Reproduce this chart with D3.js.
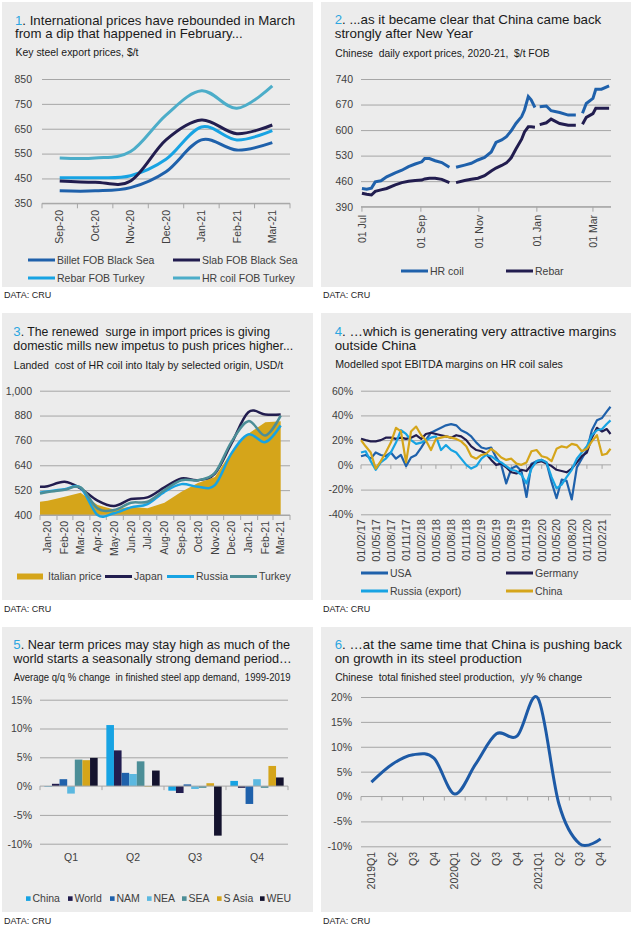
<!DOCTYPE html>
<html>
<head>
<meta charset="utf-8">
<script src="https://cdn.jsdelivr.net/npm/d3@7"></script>
<style>
  body { margin: 0; background: #fff; }
  text { white-space: pre; }
</style>
</head>
<body>
<script>
const parse = d3.timeParse("%Y-%m-%d");

// #region Data
// 1. Key steel export prices, $/t
const months1 = ["Sep-20", "Oct-20", "Nov-20", "Dec-20", "Jan-21", "Feb-21", "Mar-21"];
const billet1 = [400, 400, 413, 477, 605, 564, 594];
const slab1 = [440, 435, 440, 605, 685, 630, 665];
const rebar1 = [453, 453, 461, 527, 657, 605, 642];
const hrcoil1 = [532, 532, 558, 705, 803, 732, 822];

// 2. Chinese daily export prices, $/t FOB (null = no quote)
const dates2 = [
  "2020-07-01", "2020-07-06", "2020-07-11", "2020-07-15", "2020-07-21", "2020-07-27",
  "2020-08-05", "2020-08-12", "2020-08-19", "2020-08-26", "2020-09-02", "2020-09-05",
  "2020-09-10", "2020-09-16", "2020-09-23", "2020-10-01", "2020-10-04", "2020-10-08",
  "2020-10-17", "2020-10-24", "2020-10-31", "2020-11-07", "2020-11-14", "2020-11-19",
  "2020-11-25", "2020-11-30", "2020-12-05", "2020-12-10", "2020-12-16", "2020-12-19",
  "2020-12-23", "2020-12-26", "2020-12-30", "2021-01-01", "2021-01-04", "2021-01-11",
  "2021-01-16", "2021-01-25", "2021-02-03", "2021-02-11", "2021-02-14", "2021-02-18",
  "2021-02-22", "2021-03-01", "2021-03-04", "2021-03-10", "2021-03-18"
];
const hrcoil2 = [
  440, 438, 441, 458, 461, 472, 483, 490, 500, 507,
  513, 522, 522, 516, 511, 498, null, 498, 504, 509,
  518, 525, 540, 566, 573, 582, 598, 618, 637, 655,
  692, 683, 662, null, 664, 666, 653, 648, 641, 641,
  null, 646, 673, 687, 712, 712, 721
];
const rebar2 = [
  427, 424, 422, 432, 436, 440, 450, 456, 460, 462,
  463, 466, 468, 468, 465, 456, null, 456, 462, 465,
  468, 475, 488, 496, 503, 510, 524, 548, 575, 595,
  609, 609, 608, null, 615, 620, 630, 618, 613, 613,
  null, 616, 635, 645, 660, 660, 660
];
const axisDates2 = ["2020-07-01", "2020-09-01", "2020-11-01", "2021-01-01", "2021-03-01"];

// 3. Landed cost of HR coil into Italy, USD/t
const months3 = ["Jan-20", "Feb-20", "Mar-20", "Apr-20", "May-20", "Jun-20", "Jul-20", "Aug-20",
  "Sep-20", "Oct-20", "Nov-20", "Dec-20", "Jan-21", "Feb-21", "Mar-21"];
const dates3 = ["2020-01-01", "2020-01-15", "2020-02-15", "2020-03-15", "2020-04-15", "2020-05-15",
  "2020-06-15", "2020-07-15", "2020-08-15", "2020-09-15", "2020-10-15", "2020-11-15",
  "2020-12-15", "2021-01-15", "2021-02-15", "2021-03-15"];
const italy3 = [464, 469, 488, 507, 448, 427, 440, 432, 459, 512, 555, 584, 704, 792, 848, 853];
const japan3 = [536, 539, 560, 528, 469, 443, 477, 485, 533, 576, 568, 600, 744, 896, 885, 885];
const russia3 = [508, 514, 524, 532, 400, 408, 437, 453, 512, 549, 536, 544, 696, 789, 752, 832];
const turkey3 = [504, 511, 522, 533, 432, 424, 459, 464, 520, 568, 568, 603, 752, 853, 784, 880];

// 4. Modelled spot EBITDA margins on HR coil sales, % (monthly from Feb 2017)
const start4 = "2017-02-01";
const end4 = "2021-03-24";
const usa4 = [7, 8, 5, 10, 8, 7, 10, 5, 8, -1, 6, 8, 14, 20, 26, 28, 30, 32, 33, 32,
  28, 26, 23, 18, 14, 13, 14, 6, 0, -15, -3, -1, -5, -26, 1, 3, 4, 2, -14, -27,
  -12, -13, -28, -2, 5, 12, 28, 36, 38, 43, 47];
const germany4 = [21, 20, 19, 19, 20, 22, 22, 21, 22, 21, 22, 24, 21, 25, 26, 25, 24, 23, 22, 24,
  23, 20, 15, 12, 11, 9, 4, 0, 1, -2, -6, -7, -4, -5, 0, 2, 3, 1, -1, -4,
  -5, -6, -3, 2, 7, 10, 22, 30, 27, 29, 25];
const russia4 = [10, 11, 3, -4, 2, 5, 10, 18, 28, 25, 20, 17, 18, 20, 22, 23, 12, 16, 12, 10,
  5, 0, -3, -1, 5, 8, 7, 4, 2, -1, -4, -5, -8, -15, -3, 3, 4, 2, -10, -19,
  -16, -10, -4, 5, 10, 15, 24, 28, 29, 33, 36];
const china4 = [20, 15, 10, -3, 3, 10, 18, 30, 27, 2, 27, 31, 24, 20, 12, 21, 22, 23, 22, 21,
  19, 15, 7, 5, 8, 9, 13, 10, 6, 4, 5, 1, 0, 2, 11, 12, 7, 6, 3, 13,
  15, 14, 17, 16, 11, 13, 19, 24, 8, 9, 13];

// 5. Average q/q % change in finished steel apparent demand, 1999-2019
const quarters5 = ["Q1", "Q2", "Q3", "Q4"];
const regions5 = ["China", "World", "NAM", "NEA", "SEA", "S Asia", "WEU"];
const china5 = [-0.1, 10.6, -0.8, 0.9];
const world5 = [0.4, 6.2, -1.2, -0.3];
const nam5 = [1.2, 2.3, 0.3, -3.1];
const nea5 = [-1.3, 2.1, -0.5, 1.2];
const sea5 = [4.6, 4.3, -0.3, -0.3];
const sasia5 = [4.5, -0.1, 0.5, 3.5];
const weu5 = [4.9, 2.7, -8.6, 1.5];

// 6. Chinese total finished steel production, y/y %
const quarters6 = ["2019Q1", "Q2", "Q3", "Q4", "2020Q1", "Q2", "Q3", "Q4", "2021Q1", "Q2", "Q3", "Q4"];
const prod6 = [2.9, 6.5, 8.4, 7.7, 0.5, 6.5, 12.6, 12.2, 19.7, -1.5, -9.5, -8.5];
// #endregion

const FONT = '"Liberation Sans", Arial, Helvetica, sans-serif';
const GRID = "#a6a6a6";
const INK = "#404040";
const NAVY = "#221d4f";
const MID = "#1f61ab";
const BRIGHT = "#17a3e3";
const LIGHT = "#4cadc9";
const GOLD = "#d5a51a";
const TEAL = "#4c8e97";
const smooth = d3.curveCardinal.tension(0);

const svg = d3.select("body").append("svg")
  .attr("width", 635).attr("height", 931)
  .attr("font-family", FONT);

// #region Helpers
function frame(p) {
  svg.append("rect").attr("x", p.x).attr("y", p.y)
    .attr("width", p.w).attr("height", p.h).attr("fill", "#ececec");
  // number in blue, rest of the first line right after it
  const num = svg.append("text").attr("x", p.tx).attr("y", p.ty[0])
    .attr("font-size", 13.2).attr("fill", "#2ca6e0").text(p.num);
  const nw = num.node().getComputedTextLength();
  svg.append("text").attr("x", p.tx + nw).attr("y", p.ty[0])
    .attr("font-size", 13.2).attr("fill", "#1a1a1a")
    .attr("textLength", p.tw[0] - nw).attr("lengthAdjust", "spacingAndGlyphs")
    .text(p.lines[0]);
  svg.append("text").attr("x", p.tx).attr("y", p.ty[1])
    .attr("font-size", 13.2).attr("fill", "#1a1a1a")
    .attr("textLength", p.tw[1]).attr("lengthAdjust", "spacingAndGlyphs")
    .text(p.lines[1]);
  svg.append("text").attr("x", p.tx + 0.5).attr("y", p.sy)
    .attr("font-size", 10.4).attr("fill", "#1a1a1a")
    .attr("textLength", p.sw).attr("lengthAdjust", "spacingAndGlyphs")
    .text(p.sub);
  svg.append("text").attr("x", p.x + 2).attr("y", p.dy)
    .attr("font-size", 9).attr("fill", "#262626").text("DATA: CRU");
}

function yGrid(y, ticks, x0, x1, fmt, pad = 9, skip = null) {
  const g = svg.append("g")
    .attr("transform", `translate(${x0},0)`)
    .call(d3.axisLeft(y).tickValues(ticks).tickSize(-(x1 - x0)).tickPadding(pad).tickFormat(fmt));
  g.attr("font-family", FONT).attr("font-size", 10.5);
  g.select(".domain").remove();
  g.selectAll(".tick line").attr("stroke", GRID).attr("stroke-width", 1)
    .attr("opacity", (d) => (d === skip ? 0 : 1));
  g.selectAll(".tick text").attr("fill", INK);
}

function rotLabels(data, xf, top, txt, size = 10.5) {
  svg.append("g").selectAll("text").data(data).join("text")
    .attr("transform", (d, i) => `translate(${xf(d, i)},${top}) rotate(-90)`)
    .attr("text-anchor", "end").attr("dy", "0.35em")
    .attr("font-size", size).attr("fill", INK)
    .text(txt);
}

function axisLine(x0, x1, y, tickXs, len = 4) {
  svg.append("line").attr("x1", x0).attr("x2", x1).attr("y1", y).attr("y2", y)
    .attr("stroke", GRID).attr("stroke-width", 1);
  svg.append("g").selectAll("line").data(tickXs).join("line")
    .attr("x1", (d) => d).attr("x2", (d) => d)
    .attr("y1", y).attr("y2", y + len)
    .attr("stroke", GRID).attr("stroke-width", 1);
}

function legendLine(x, y, color, label, w = 27) {
  svg.append("line").attr("x1", x).attr("x2", x + w).attr("y1", y).attr("y2", y)
    .attr("stroke", color).attr("stroke-width", 3);
  svg.append("text").attr("x", x + w + 2).attr("y", y).attr("dy", "0.35em")
    .attr("font-size", 10.5).attr("fill", INK).text(label);
}
// #endregion

// #region Frames and titles
frame({ x: 2, y: 2, w: 311, h: 285, num: "1",
  lines: [". International prices have rebounded in March", "from a dip that happened in February..."],
  tx: 15, ty: [24.5, 38.0], tw: [280, 227.7],
  sub: "Key steel export prices, $/t", sy: 55.5, sw: 123, dy: 298 });
frame({ x: 321, y: 2, w: 310, h: 285, num: "2",
  lines: [". ...as it became clear that China came back", "strongly after New Year"],
  tx: 334.7, ty: [24.3, 37.8], tw: [266.6, 138.3],
  sub: "Chinese  daily export prices, 2020-21,  $/t FOB", sy: 56.5, sw: 214.4, dy: 298 });
frame({ x: 2, y: 313, w: 311, h: 287, num: "3",
  lines: [". The renewed  surge in import prices is giving", "domestic mills new impetus to push prices higher..."],
  tx: 13.3, ty: [336.4, 349.9], tw: [256.7, 280],
  sub: "Landed  cost of HR coil into Italy by selected origin, USD/t", sy: 368.5, sw: 269.4, dy: 612 });
frame({ x: 321, y: 313, w: 310, h: 287, num: "4",
  lines: [". \u2026which is generating very attractive margins", "outside China"],
  tx: 334.7, ty: [336.4, 349.9], tw: [281.6, 81.6],
  sub: "Modelled spot EBITDA margins on HR coil sales", sy: 368, sw: 227.7, dy: 612 });
frame({ x: 2, y: 627, w: 311, h: 285, num: "5",
  lines: [". Near term prices may stay high as much of the", "world starts a seasonally strong demand period\u2026"],
  tx: 13.3, ty: [649, 662.8], tw: [276.7, 278.4],
  sub: "Average q/q % change  in finished steel app demand,  1999-2019", sy: 681, sw: 276.7, dy: 923.5 });
frame({ x: 321, y: 627, w: 310, h: 285, num: "6",
  lines: [". \u2026at the same time that China is pushing back", "on growth in its steel production"],
  tx: 334.7, ty: [649, 662.8], tw: [287.3, 187.3],
  sub: "Chinese  total finished steel production,  y/y % change", sy: 681.3, sw: 247, dy: 923.5 });
// #endregion

// #region Panel 1: export prices
{
  const x = d3.scaleBand().domain(months1).range([42, 290]);
  const y = d3.scaleLinear().domain([350, 850]).range([203.3, 79]);
  const cx = (d) => x(d) + x.bandwidth() / 2;
  yGrid(y, d3.range(350, 851, 100), 42, 290, (d) => d, 10);
  axisLine(42, 290, y(350), months1.map((m) => x(m)).concat([290]), 5);
  rotLabels(months1, cx, 210, (d) => d);

  const series = [
    { name: "HR coil FOB Turkey", values: hrcoil1, color: LIGHT },
    { name: "Rebar FOB Turkey", values: rebar1, color: BRIGHT },
    { name: "Slab FOB Black Sea", values: slab1, color: NAVY },
    { name: "Billet FOB Black Sea", values: billet1, color: MID },
  ];
  const line = d3.line().x((d, i) => cx(months1[i])).y((d) => y(d)).curve(smooth);
  svg.append("g").selectAll("path").data(series).join("path")
    .attr("d", (s) => line(s.values))
    .attr("fill", "none").attr("stroke", (s) => s.color).attr("stroke-width", 3);

  legendLine(28, 260, MID, "Billet FOB Black Sea");
  legendLine(173, 260, NAVY, "Slab FOB Black Sea");
  legendLine(28, 278, BRIGHT, "Rebar FOB Turkey");
  legendLine(173, 278, LIGHT, "HR coil FOB Turkey");
}
// #endregion

// #region Panel 2: Chinese daily export prices
{
  const x = d3.scaleTime().domain([parse("2020-06-30"), parse("2021-03-20")]).range([361, 611]);
  const y = d3.scaleLinear().domain([390, 740]).range([206.7, 79]);
  yGrid(y, d3.range(390, 741, 70), 361, 611, (d) => d, 8);
  const ticks = axisDates2.map(parse);
  axisLine(361, 611, y(390), ticks.map((d) => x(d)), 5);
  rotLabels(ticks, (d) => x(d), 215, d3.timeFormat("%d %b"));

  const dts = dates2.map(parse);
  const line = d3.line().defined((d) => d != null)
    .x((d, i) => x(dts[i])).y((d) => y(d));
  svg.append("path").attr("d", line(rebar2)).attr("fill", "none")
    .attr("stroke", NAVY).attr("stroke-width", 3);
  svg.append("path").attr("d", line(hrcoil2)).attr("fill", "none")
    .attr("stroke", MID).attr("stroke-width", 3);

  legendLine(401, 271, MID, "HR coil");
  legendLine(506, 271, NAVY, "Rebar");
}
// #endregion

// #region Panel 3: landed cost into Italy
{
  const x = d3.scaleTime().domain([parse("2020-01-01"), parse("2021-04-01")]).range([40, 290]);
  const y = d3.scaleLinear().domain([400, 1000]).range([515, 390.7]);
  const dts = dates3.map(parse);
  yGrid(y, d3.range(400, 1001, 120), 40, 290, d3.format(","), 8);

  svg.append("path")
    .attr("d", d3.area().x((d, i) => x(dts[i])).y0(y(400)).y1((d) => y(d))(italy3))
    .attr("fill", GOLD);

  const bounds = d3.timeMonth.range(parse("2020-01-01"), parse("2021-04-02"));
  axisLine(40, 290, y(400), bounds.map((d) => x(d)), 5);
  rotLabels(months3, (d, i) => x(dts[i + 1]), 521, (d) => d);

  const line = d3.line().x((d, i) => x(dts[i])).y((d) => y(d)).curve(smooth);
  [[japan3, NAVY], [russia3, BRIGHT], [turkey3, TEAL]].forEach(([v, c]) => {
    svg.append("path").attr("d", line(v)).attr("fill", "none")
      .attr("stroke", c).attr("stroke-width", 2.5);
  });

  svg.append("rect").attr("x", 17).attr("y", 573.5).attr("width", 26).attr("height", 6)
    .attr("fill", GOLD);
  svg.append("text").attr("x", 48).attr("y", 576.5).attr("dy", "0.35em")
    .attr("font-size", 10.5).attr("fill", INK).text("Italian price");
  legendLine(105, 576.5, NAVY, "Japan");
  legendLine(167, 576.5, BRIGHT, "Russia");
  legendLine(230, 576.5, TEAL, "Turkey");
}
// #endregion

// #region Panel 4: EBITDA margins
{
  const t0 = parse(start4);
  const x = d3.scaleTime().domain([t0, parse("2021-03-27")]).range([361, 611]);
  const y = d3.scaleLinear().domain([-40, 60]).range([514.3, 390.7]);
  yGrid(y, d3.range(-40, 61, 20), 361, 611, (d) => d + "%", 8, 0);
  const quarters = d3.timeMonth.range(t0, parse("2021-02-02"), 3);
  axisLine(361, 611, y(0), quarters.map((d) => x(d)), 4);
  rotLabels(quarters, (d) => x(d), 519, d3.timeFormat("%d/%m/%y"), 11);

  const dts = d3.timeMonth.range(t0, parse("2021-03-02")).concat([parse(end4)]);
  const line = d3.line().x((d, i) => x(dts[i])).y((d) => y(d));
  [[usa4, MID], [germany4, NAVY], [russia4, BRIGHT], [china4, GOLD]].forEach(([v, c]) => {
    svg.append("path").attr("d", line(v)).attr("fill", "none")
      .attr("stroke", c).attr("stroke-width", 2.2).attr("stroke-linejoin", "round");
  });

  legendLine(361, 573, MID, "USA");
  legendLine(506, 573, NAVY, "Germany");
  legendLine(361, 591, BRIGHT, "Russia (export)");
  legendLine(506, 591, GOLD, "China");
}
// #endregion

// #region Panel 5: seasonal demand
{
  const x0 = d3.scaleBand().domain(quarters5).range([40, 288]).paddingInner(0.14).paddingOuter(0.07);
  const x1 = d3.scaleBand().domain(regions5).range([0, x0.bandwidth()]);
  const y = d3.scaleLinear().domain([-10, 15]).range([843.7, 699.7]);
  const colors = d3.scaleOrdinal().domain(regions5)
    .range([BRIGHT, NAVY, MID, "#5bb8e0", TEAL, GOLD, "#14132e"]);
  yGrid(y, d3.range(-10, 16, 5), 40, 288, (d) => d + "%", 8, 0);

  const table = [china5, world5, nam5, nea5, sea5, sasia5, weu5];
  const bars = [];
  quarters5.forEach((q, qi) => regions5.forEach((r, ri) => bars.push({ q, r, v: table[ri][qi] })));
  svg.append("g").selectAll("rect").data(bars).join("rect")
    .attr("x", (d) => x0(d.q) + x1(d.r))
    .attr("width", x1.bandwidth())
    .attr("y", (d) => y(Math.max(0, d.v)))
    .attr("height", (d) => Math.abs(y(d.v) - y(0)))
    .attr("fill", (d) => colors(d.r));

  const gap = (x0.step() - x0.bandwidth()) / 2;
  axisLine(40, 288, y(0), quarters5.map((q) => x0(q) - gap).concat([288]), 4);
  svg.append("g").selectAll("text").data(quarters5).join("text")
    .attr("x", (d) => x0(d) + x0.bandwidth() / 2).attr("y", 860.5)
    .attr("text-anchor", "middle").attr("font-size", 10.5).attr("fill", INK)
    .text((d) => d);

  const legX = [26, 68, 110, 147, 182, 217, 260];
  regions5.forEach((r, i) => {
    svg.append("rect").attr("x", legX[i]).attr("y", 896.3).attr("width", 4.6).attr("height", 4.6)
      .attr("fill", colors(r));
    svg.append("text").attr("x", legX[i] + 6.5).attr("y", 898.6).attr("dy", "0.35em")
      .attr("font-size", 10.5).attr("fill", INK).text(r);
  });
}
// #endregion

// #region Panel 6: Chinese production growth
{
  const idx = d3.range(quarters6.length);
  const x = d3.scaleBand().domain(idx).range([361, 611]);
  const y = d3.scaleLinear().domain([-10, 20]).range([846.3, 697]);
  yGrid(y, d3.range(-10, 21, 5), 361, 611, (d) => d + "%", 9, 0);
  axisLine(361, 611, y(0), idx.map((i) => x(i)).concat([611]), 4);
  rotLabels(idx, (i) => x(i) + x.bandwidth() / 2, 852, (i) => quarters6[i]);

  const line = d3.line().x((d, i) => x(i) + x.bandwidth() / 2).y((d) => y(d)).curve(smooth);
  svg.append("path").attr("d", line(prod6)).attr("fill", "none")
    .attr("stroke", "#1d5aa6").attr("stroke-width", 3);
}
// #endregion
</script>
</body>
</html>
